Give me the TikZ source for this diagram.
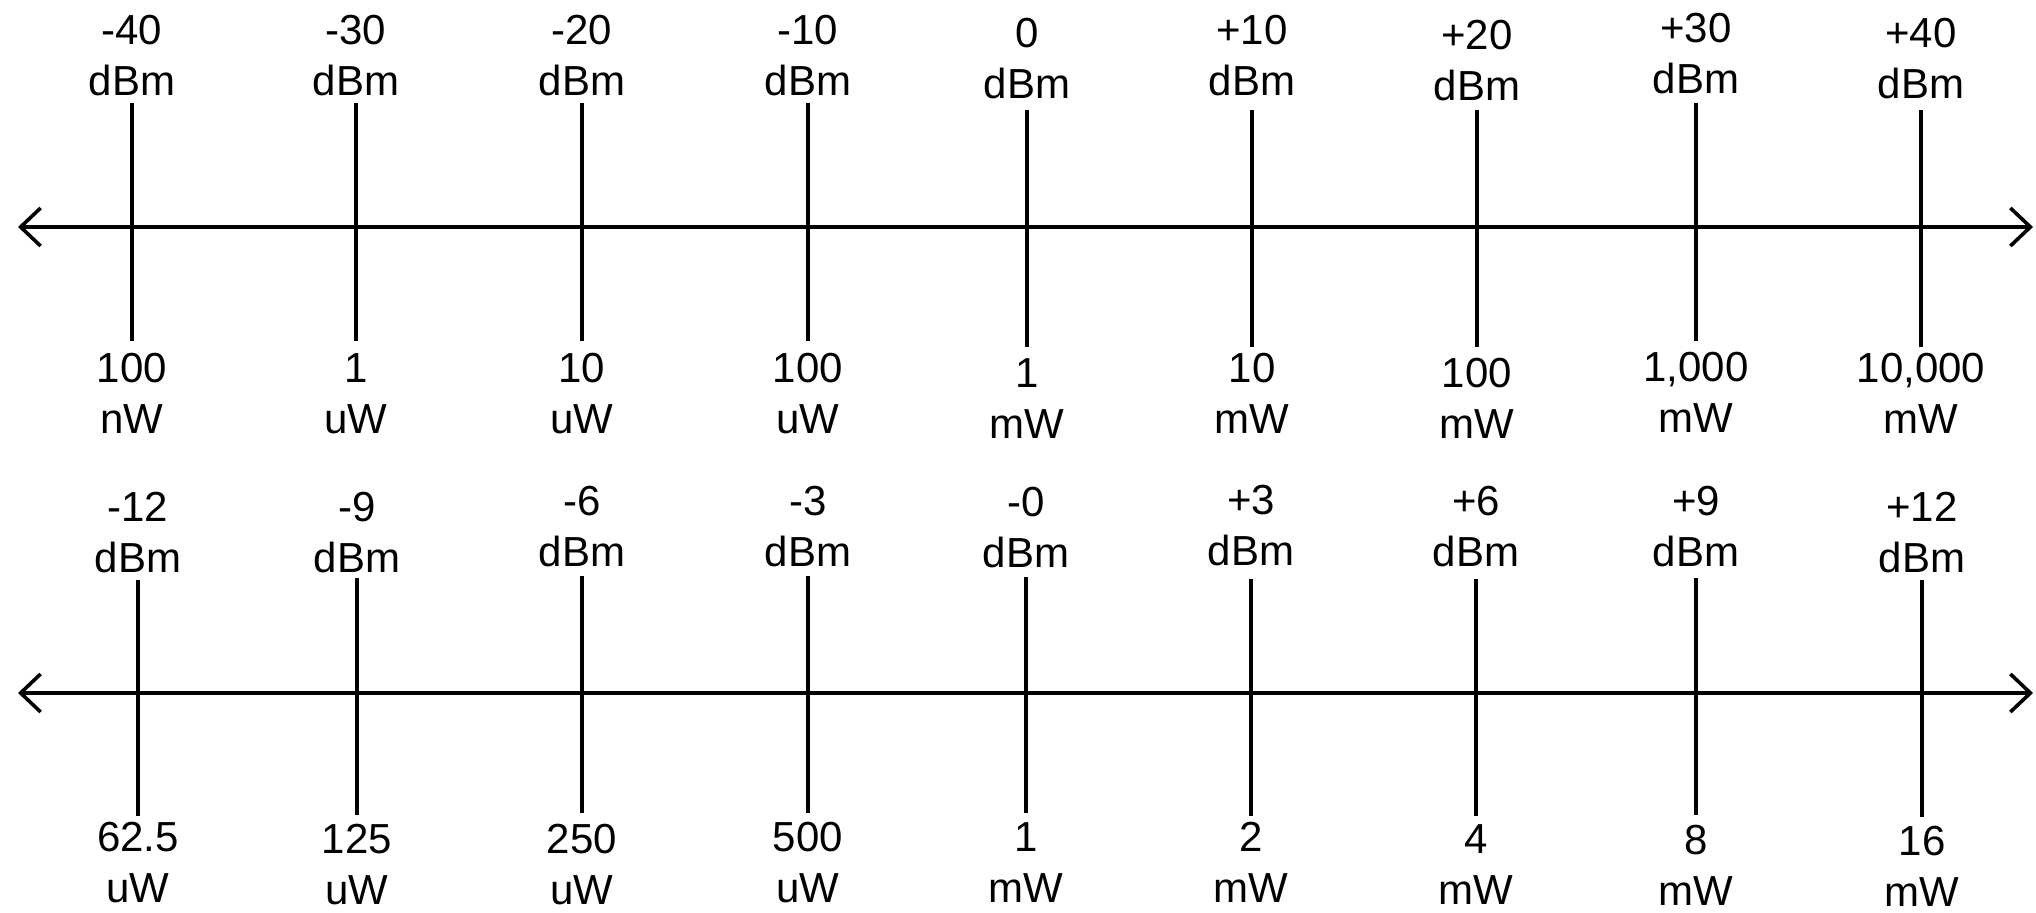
\documentclass[tikz,border=0pt]{standalone}
\usepackage{fontspec}
\setmainfont{Liberation Sans}
\usetikzlibrary{arrows.meta}

\begin{document}
\begin{tikzpicture}[
		x=0.5pt, y=-0.5pt,
		reading/.style={align=center, inner sep=0pt, font=\fontsize{21}{25.5}\selectfont},
		marker/.style={line width=1.8pt},
		scaleline/.style={line width=1.8pt, {Straight Barb[length=10pt,width=19pt]}-{Straight Barb[length=10pt,width=19pt]}},
	]
		\useasboundingbox (0,0) rectangle (2036,913);

		% decades: 10 dB steps
		\coordinate (declft) at (18,227);
		\coordinate (decrgt) at (2033,227);
		\draw[scaleline] (declft) -- (decrgt);

		\draw[marker] (132,103) -- (132,341);
		\draw[marker] (356,103) -- (356,341);
		\draw[marker] (582,103) -- (582,341);
		\draw[marker] (808,103) -- (808,341);
		\draw[marker] (1027,110) -- (1027,347);
		\draw[marker] (1252,110) -- (1252,347);
		\draw[marker] (1477,110) -- (1477,347);
		\draw[marker] (1696,103) -- (1696,341);
		\draw[marker] (1921,110) -- (1921,347);

		\node (dm40) at (132,55.5) [reading] {-40\\dBm};
		\node (dm30) at (356,55.5) [reading] {-30\\dBm};
		\node (dm20) at (582,55.5) [reading] {-20\\dBm};
		\node (dm10) at (808,55.5) [reading] {-10\\dBm};
		\node (d0) at (1027,58.5) [reading] {0\\dBm};
		\node (dp10) at (1252,55.5) [reading] {+10\\dBm};
		\node (dp20) at (1477,60.5) [reading] {+20\\dBm};
		\node (dp30) at (1696,53.5) [reading] {+30\\dBm};
		\node (dp40) at (1921,58.5) [reading] {+40\\dBm};

		\node (w100n) at (132,393.5) [reading] {100\\nW};
		\node (w1u) at (356,393.5) [reading] {1\\uW};
		\node (w10u) at (582,393.5) [reading] {10\\uW};
		\node (w100u) at (808,393.5) [reading] {100\\uW};
		\node (w1m) at (1027,398.5) [reading] {1\\mW};
		\node (w10m) at (1252,393.5) [reading] {10\\mW};
		\node (w100m) at (1477,398.5) [reading] {100\\mW};
		\node (w1000m) at (1696,392.5) [reading] {1,000\\mW};
		\node (w10000m) at (1921,393.5) [reading] {10,000\\mW};

		% doublings: 3 dB steps
		\coordinate (dbllft) at (18,693);
		\coordinate (dblrgt) at (2033,693);
		\draw[scaleline] (dbllft) -- (dblrgt);

		\draw[marker] (138,580) -- (138,816);
		\draw[marker] (357,578) -- (357,815);
		\draw[marker] (582,576) -- (582,813);
		\draw[marker] (808,576) -- (808,813);
		\draw[marker] (1026,577) -- (1026,813);
		\draw[marker] (1251,579) -- (1251,816);
		\draw[marker] (1476,579) -- (1476,816);
		\draw[marker] (1696,578) -- (1696,815);
		\draw[marker] (1922,580) -- (1922,817);

		\node (hm12) at (138,532.5) [reading] {-12\\dBm};
		\node (hm9) at (357,532.5) [reading] {-9\\dBm};
		\node (hm6) at (582,526.5) [reading] {-6\\dBm};
		\node (hm3) at (808,526.5) [reading] {-3\\dBm};
		\node (hm0) at (1026,527.5) [reading] {-0\\dBm};
		\node (hp3) at (1251,525.5) [reading] {+3\\dBm};
		\node (hp6) at (1476,526.5) [reading] {+6\\dBm};
		\node (hp9) at (1696,526.5) [reading] {+9\\dBm};
		\node (hp12) at (1922,532.5) [reading] {+12\\dBm};

		\node (v62u) at (138,862.5) [reading] {62.5\\uW};
		\node (v125u) at (357,864.5) [reading] {125\\uW};
		\node (v250u) at (582,865) [reading] {250\\uW};
		\node (v500u) at (808,862.5) [reading] {500\\uW};
		\node (v1m) at (1026,862.5) [reading] {1\\mW};
		\node (v2m) at (1251,862.5) [reading] {2\\mW};
		\node (v4m) at (1476,865) [reading] {4\\mW};
		\node (v8m) at (1696,865) [reading] {8\\mW};
		\node (v16m) at (1922,866.5) [reading] {16\\mW};
	\end{tikzpicture}
\end{document}
